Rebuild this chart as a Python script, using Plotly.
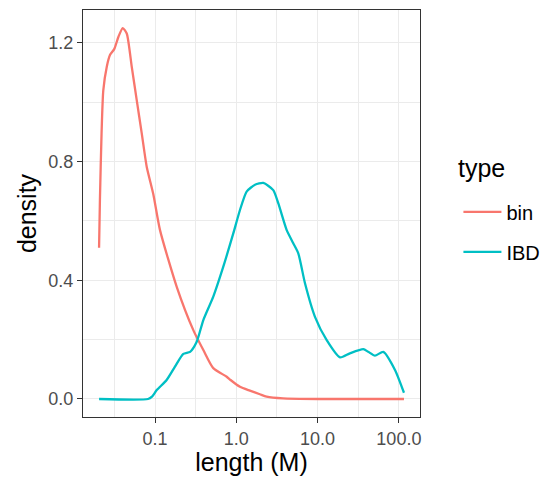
import plotly.graph_objects as go

# ---- data ----
bin_x = [0.0205, 0.0210, 0.0220, 0.0231, 0.0255, 0.0280, 0.0316, 0.0354, 0.0401, 0.0449,
         0.0517, 0.0595, 0.0686, 0.0790, 0.0953, 0.115, 0.185, 0.296, 0.393, 0.521,
         0.762, 0.85, 1.11, 1.47, 1.95, 2.36, 3.75, 10.7, 115.6]
bin_y = [0.51, 0.67, 0.896, 1.04, 1.12, 1.160, 1.18, 1.22, 1.25, 1.232,
         1.12, 1.008, 0.896, 0.783, 0.690, 0.57, 0.378, 0.232, 0.165, 0.104,
         0.075, 0.064, 0.041, 0.028, 0.016, 0.008, 0.002, 0.0, 0.0]

ibd_x = [0.0205, 0.082, 0.0918, 0.105, 0.139, 0.176, 0.223, 0.270, 0.326, 0.393,
         0.521, 0.692, 0.918, 1.11, 1.34, 1.70, 2.15, 2.85, 3.29, 4.17,
         5.02, 5.79, 7.00, 9.29, 12.9, 18.9, 25.0, 36.5, 42.0, 50.8,
         64.3, 89.6, 115.6]
ibd_y = [0.0, 0.0, 0.008, 0.03, 0.064, 0.109, 0.152, 0.159, 0.193, 0.266,
         0.345, 0.446, 0.558, 0.637, 0.699, 0.722, 0.728, 0.704, 0.659, 0.569,
         0.525, 0.491, 0.39, 0.277, 0.199, 0.14, 0.154, 0.168, 0.159, 0.146,
         0.159, 0.098, 0.021]

x_tickvals = [0.1, 1.0, 10.0, 100.0]
x_ticktext = ["0.1", "1.0", "10.0", "100.0"]
x_minor = [10 ** -1.5, 10 ** -0.5, 10 ** 0.5, 10 ** 1.5]
y_tickvals = [0.0, 0.4, 0.8, 1.2]
y_ticktext = ["0.0", "0.4", "0.8", "1.2"]
y_minor = [0.2, 0.6, 1.0]

series_names = ["bin", "IBD"]
series_colors = ["#F8766D", "#00BFC4"]
legend_title = "type"

FONT = "Liberation Sans, Arial, sans-serif"

fig = go.Figure()
for name, xs, ys, col in zip(series_names, [bin_x, ibd_x], [bin_y, ibd_y], series_colors):
    fig.add_trace(go.Scatter(x=xs, y=ys, mode="lines", name=name, legendgroup=name,
                             line=dict(color=col, width=2.3, shape="spline", smoothing=0.6)))

grid = "#EBEBEB"
fig.update_layout(
    width=541, height=468,
    margin=dict(l=75, r=129, t=2, b=59, autoexpand=False),
    paper_bgcolor="white", plot_bgcolor="white",
    font=dict(family=FONT, color="black"),
    legend=dict(
        x=1.114, xanchor="left", y=0.552, yanchor="top",
        font=dict(size=20, color="black"),
        tracegroupgap=11, itemwidth=38,
        bgcolor="rgba(0,0,0,0)",
    ),
    annotations=[dict(text=legend_title, xref="paper", yref="paper", x=1.107, y=0.612,
                      xanchor="left", yanchor="middle", showarrow=False,
                      font=dict(size=25, color="black", family=FONT))],
)
fig.update_xaxes(
    type="log", range=[-1.886, 2.26],
    tickvals=x_tickvals, ticktext=x_ticktext,
    tickfont=dict(size=18, color="#4D4D4D", family=FONT),
    ticks="outside", ticklen=5, tickcolor="#333333", tickwidth=1.1,
    showgrid=True, gridcolor=grid, gridwidth=1.2,
    minor=dict(tickvals=x_minor, showgrid=True, gridcolor=grid, gridwidth=0.7, ticks=""),
    showline=True, mirror=True, linecolor="#333333", linewidth=1.2,
    zeroline=False, automargin=False,
    title=dict(text="length (M)", font=dict(size=25, color="black", family=FONT), standoff=4),
)
fig.update_yaxes(
    range=[-0.0607, 1.311],
    tickvals=y_tickvals, ticktext=y_ticktext,
    tickfont=dict(size=18, color="#4D4D4D", family=FONT),
    ticks="outside", ticklen=5, tickcolor="#333333", tickwidth=1.1,
    showgrid=True, gridcolor=grid, gridwidth=1.2,
    minor=dict(tickvals=y_minor, showgrid=True, gridcolor=grid, gridwidth=0.7, ticks=""),
    showline=True, mirror=True, linecolor="#333333", linewidth=1.2,
    zeroline=False, automargin=False,
    title=dict(text="density", font=dict(size=25, color="black", family=FONT), standoff=4),
)

fig.write_html("out.html")
